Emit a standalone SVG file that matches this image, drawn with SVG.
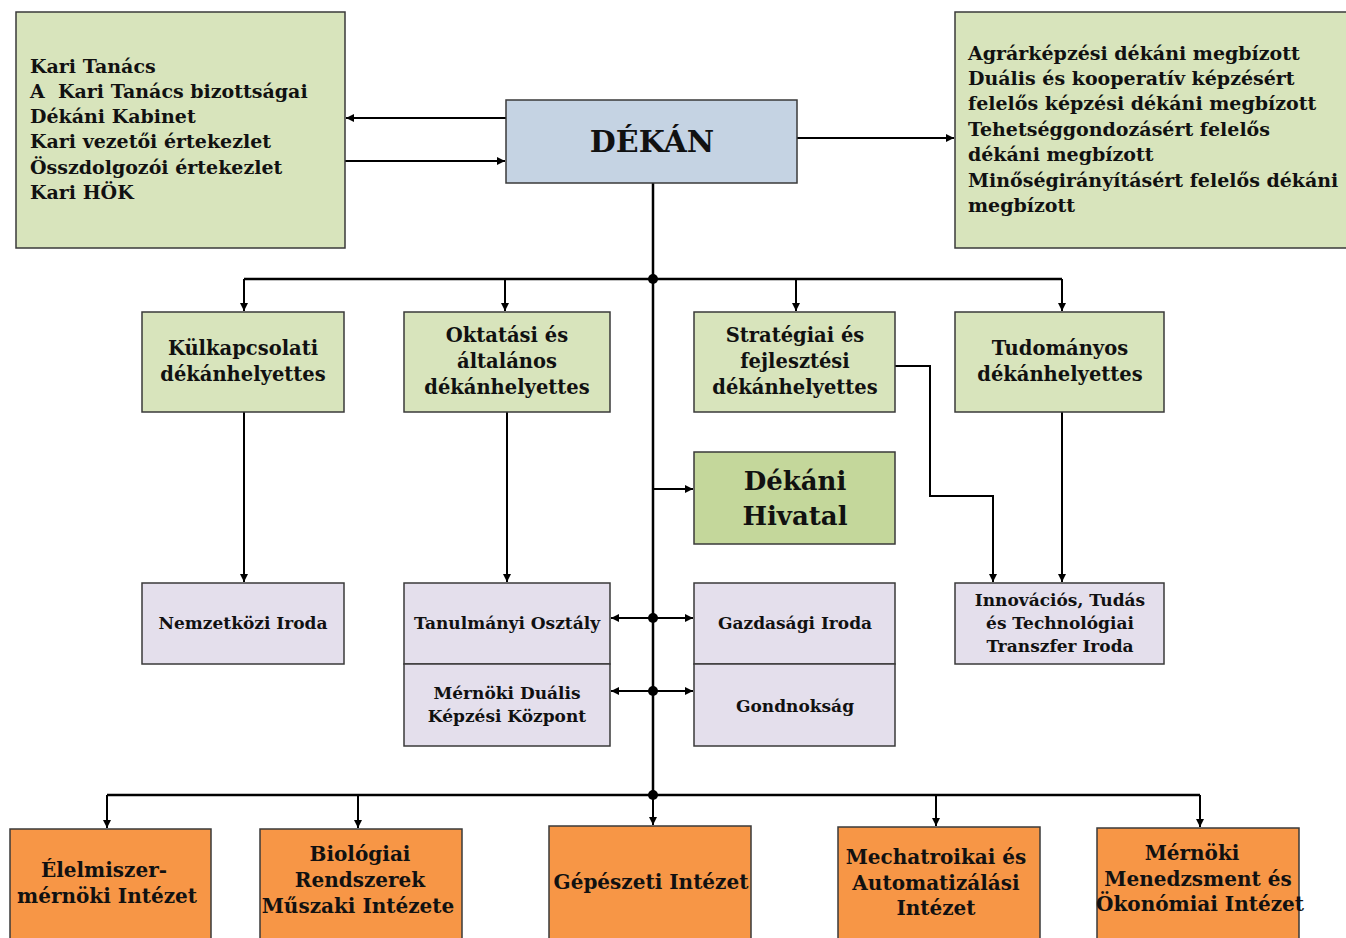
<svg xmlns="http://www.w3.org/2000/svg" width="1346" height="938" viewBox="0 0 1346 938">
<defs>
<marker id="ah" viewBox="0 0 10 10" refX="10" refY="5" markerWidth="4" markerHeight="4" orient="auto-start-reverse" markerUnits="strokeWidth">
<path d="M0,0 L10,5 L0,10 z" fill="#000"/>
</marker>
<style>
.box{stroke:#3a3a3a;stroke-width:1.5}
.g{fill:#d8e4bc}
.g2{fill:#c4d79b}
.b{fill:#c5d3e3}
.l{fill:#e4dfec}
.o{fill:#f79646}
text{font-family:"DejaVu Serif","Liberation Serif",serif;font-weight:bold;fill:#111}
.t18{font-size:19.5px;text-anchor:middle}
.t15{font-size:17px;text-anchor:middle}
.tl{font-size:19px;white-space:pre}
.tb{font-size:20px;text-anchor:middle}
.c{fill:none;stroke:#000;stroke-width:2}
.c3{fill:none;stroke:#000;stroke-width:2.5}
.ca{fill:none;stroke:#000;stroke-width:2;marker-end:url(#ah)}
.cd{fill:none;stroke:#000;stroke-width:2;marker-end:url(#ah);marker-start:url(#ah)}
</style>
</defs>
<rect width="1346" height="938" fill="#fff"/>

<g id="connectors">
<line class="ca" x1="506" y1="118" x2="346" y2="118"/>
<line class="ca" x1="345" y1="161" x2="505" y2="161"/>
<line class="ca" x1="797" y1="138" x2="954" y2="138"/>
<line class="c3" x1="653" y1="183" x2="653" y2="795"/>
<polyline class="c3" points="244,279 1062,279"/>
<line class="ca" x1="244" y1="279" x2="244" y2="311"/>
<line class="ca" x1="505" y1="279" x2="505" y2="311"/>
<line class="ca" x1="796" y1="279" x2="796" y2="311"/>
<line class="ca" x1="1062" y1="279" x2="1062" y2="311"/>
<circle cx="653" cy="279" r="5" fill="#000"/>
<line class="ca" x1="244" y1="412" x2="244" y2="582"/>
<line class="ca" x1="507" y1="412" x2="507" y2="582"/>
<polyline class="ca" points="895,366 930,366 930,496 993,496 993,582"/>
<line class="ca" x1="1062" y1="412" x2="1062" y2="582"/>
<line class="ca" x1="653" y1="489" x2="693" y2="489"/>
<line class="cd" x1="611" y1="618" x2="693" y2="618"/>
<circle cx="653" cy="618" r="5" fill="#000"/>
<line class="cd" x1="611" y1="691" x2="693" y2="691"/>
<circle cx="653" cy="691" r="5" fill="#000"/>
<polyline class="c3" points="107,795 1200,795"/>
<circle cx="653" cy="795" r="5" fill="#000"/>
<line class="ca" x1="107" y1="795" x2="107" y2="828"/>
<line class="ca" x1="358" y1="795" x2="358" y2="828"/>
<line class="ca" x1="653" y1="795" x2="653" y2="825"/>
<line class="ca" x1="936" y1="795" x2="936" y2="826"/>
<line class="ca" x1="1200" y1="795" x2="1200" y2="827"/>
</g>

<g id="testuletek">
<rect class="box g" x="16" y="12" width="329" height="236"/>
<text class="tl" x="30" y="73">Kari Tanács</text>
<text class="tl" x="30" y="98">A  Kari Tanács bizottságai</text>
<text class="tl" x="30" y="123">Dékáni Kabinet</text>
<text class="tl" x="30" y="148">Kari vezetői értekezlet</text>
<text class="tl" x="30" y="174">Összdolgozói értekezlet</text>
<text class="tl" x="30" y="199">Kari HÖK</text>
</g>

<g id="dekan">
<rect class="box b" x="506" y="100" width="291" height="83"/>
<text x="652" y="152" style="font-size:30px;text-anchor:middle">DÉKÁN</text>
</g>

<g id="megbizottak">
<rect class="box g" x="955" y="12" width="395" height="236"/>
<text class="tl" x="968" y="60">Agrárképzési dékáni megbízott</text>
<text class="tl" x="968" y="85">Duális és kooperatív képzésért</text>
<text class="tl" x="968" y="110">felelős képzési dékáni megbízott</text>
<text class="tl" x="968" y="136">Tehetséggondozásért felelős</text>
<text class="tl" x="968" y="161">dékáni megbízott</text>
<text class="tl" x="968" y="187">Minőségirányításért felelős dékáni</text>
<text class="tl" x="968" y="212">megbízott</text>
</g>

<g id="kulkapcsolati">
<rect class="box g" x="142" y="312" width="202" height="100"/>
<text class="t18" x="243" y="355">Külkapcsolati</text>
<text class="t18" x="243" y="381">dékánhelyettes</text>
</g>

<g id="oktatasi">
<rect class="box g" x="404" y="312" width="206" height="100"/>
<text class="t18" x="507" y="342">Oktatási és</text>
<text class="t18" x="507" y="368">általános</text>
<text class="t18" x="507" y="394">dékánhelyettes</text>
</g>

<g id="strategiai">
<rect class="box g" x="694" y="312" width="201" height="100"/>
<text class="t18" x="795" y="342">Stratégiai és</text>
<text class="t18" x="795" y="368">fejlesztési</text>
<text class="t18" x="795" y="394">dékánhelyettes</text>
</g>

<g id="tudomanyos">
<rect class="box g" x="955" y="312" width="209" height="100"/>
<text class="t18" x="1060" y="355">Tudományos</text>
<text class="t18" x="1060" y="381">dékánhelyettes</text>
</g>

<g id="dekani-hivatal">
<rect class="box g2" x="694" y="452" width="201" height="92"/>
<text x="795" y="490" style="font-size:26px;text-anchor:middle">Dékáni</text>
<text x="795" y="525" style="font-size:26px;text-anchor:middle">Hivatal</text>
</g>

<g id="nemzetkozi">
<rect class="box l" x="142" y="583" width="202" height="81"/>
<text class="t15" x="243" y="629">Nemzetközi Iroda</text>
</g>

<g id="tanulmanyi">
<rect class="box l" x="404" y="583" width="206" height="81"/>
<text class="t15" x="507" y="629">Tanulmányi Osztály</text>
</g>

<g id="dualis">
<rect class="box l" x="404" y="664" width="206" height="82"/>
<text class="t15" x="507" y="699">Mérnöki Duális</text>
<text class="t15" x="507" y="722">Képzési Központ</text>
</g>

<g id="gazdasagi">
<rect class="box l" x="694" y="583" width="201" height="81"/>
<text class="t15" x="795" y="629">Gazdasági Iroda</text>
</g>

<g id="gondnoksag">
<rect class="box l" x="694" y="664" width="201" height="82"/>
<text class="t15" x="795" y="712">Gondnokság</text>
</g>

<g id="innovacios">
<rect class="box l" x="955" y="583" width="209" height="81"/>
<text class="t15" x="1060" y="606">Innovációs, Tudás</text>
<text class="t15" x="1060" y="629">és Technológiai</text>
<text class="t15" x="1060" y="652">Transzfer Iroda</text>
</g>

<g id="elelmiszer">
<rect class="box o" x="10" y="829" width="201" height="120"/>
<text class="tb" x="104" y="877">Élelmiszer-</text>
<text class="tb" x="107" y="903">mérnöki Intézet</text>
</g>

<g id="biologiai">
<rect class="box o" x="260" y="829" width="202" height="120"/>
<text class="tb" x="360" y="861">Biológiai</text>
<text class="tb" x="360" y="887">Rendszerek</text>
<text class="tb" x="358" y="913">Műszaki Intézete</text>
</g>

<g id="gepeszeti">
<rect class="box o" x="549" y="826" width="202" height="120"/>
<text class="tb" x="651" y="889">Gépészeti Intézet</text>
</g>

<g id="mechatronikai">
<rect class="box o" x="838" y="827" width="202" height="120"/>
<text class="tb" x="936" y="864">Mechatroikai és</text>
<text class="tb" x="936" y="890">Automatizálási</text>
<text class="tb" x="936" y="915">Intézet</text>
</g>

<g id="menedzsment">
<rect class="box o" x="1097" y="828" width="202" height="120"/>
<text class="tb" x="1192" y="860">Mérnöki</text>
<text class="tb" x="1198" y="886">Menedzsment és</text>
<text class="tb" x="1200" y="911">Ökonómiai Intézet</text>
</g>
</svg>
